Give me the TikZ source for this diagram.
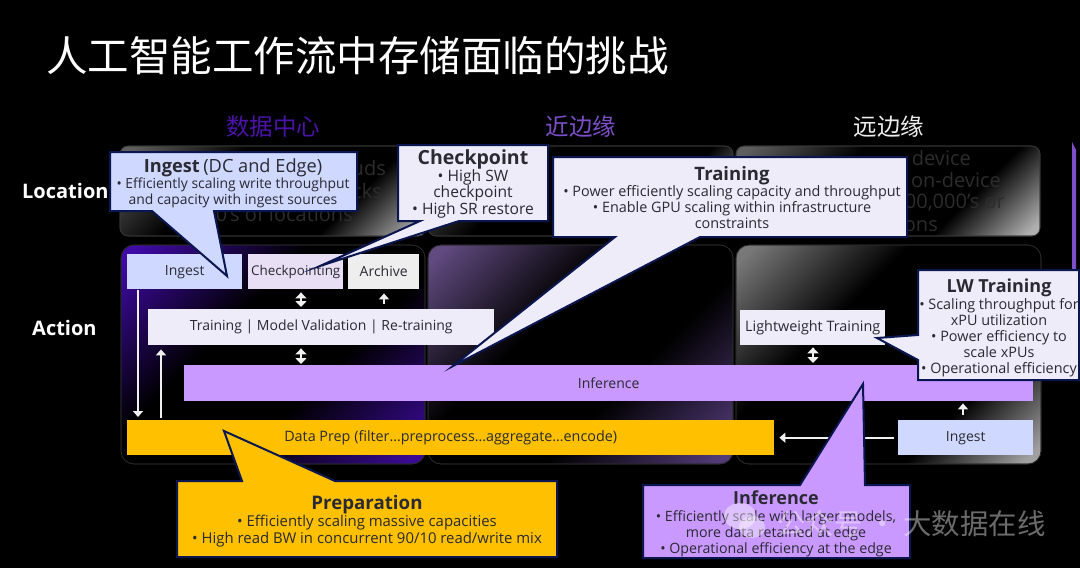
\documentclass[tikz,border=0pt]{standalone}
\usepackage{fontspec}
\setmainfont{Open Sans}
\newfontfamily\cjk{Noto Sans CJK SC}
\usetikzlibrary{arrows.meta}
\definecolor{navy}{HTML}{0A1650}
\definecolor{txt}{HTML}{2A2A33}
\definecolor{ingestc}{HTML}{CFD8FF}
\definecolor{ckptc}{HTML}{E8DFF5}
\definecolor{archc}{HTML}{EEEEEE}
\definecolor{trainc}{HTML}{EFECF9}
\definecolor{infc}{HTML}{C999FF}
\definecolor{prepc}{HTML}{FFC000}
\definecolor{ghost}{HTML}{2C2C2C}
\definecolor{headA}{HTML}{4B12A8}
\definecolor{headB}{HTML}{7D4FC8}
\definecolor{la}{HTML}{3F0AA6}
\definecolor{lb}{HTML}{3A0A96}
\definecolor{ma}{HTML}{614A80}
\definecolor{mb}{HTML}{523A78}
\definecolor{ra}{HTML}{787878}
\definecolor{rb}{HTML}{A0A0A0}
\definecolor{ta}{HTML}{5E5E5E}
\definecolor{tb}{HTML}{B0B0B0}
\pgfdeclarehorizontalshading{pLeft}{100bp}{color(0bp)=(la); color(17bp)=(la); color(40bp)=(black); color(60bp)=(black); color(83bp)=(lb); color(100bp)=(lb)}
\pgfdeclarehorizontalshading{pMid}{100bp}{color(0bp)=(ma); color(17bp)=(ma); color(40bp)=(black); color(60bp)=(black); color(83bp)=(mb); color(100bp)=(mb)}
\pgfdeclarehorizontalshading{pRight}{100bp}{color(0bp)=(ra); color(17bp)=(ra); color(38bp)=(black); color(67bp)=(black); color(83bp)=(rb); color(100bp)=(rb)}
\pgfdeclarehorizontalshading{pLoc}{100bp}{color(0bp)=(ta); color(17bp)=(ta); color(38bp)=(black); color(66bp)=(black); color(83bp)=(tb); color(100bp)=(tb)}
\tikzset{
  x=1pt,y=-1pt,
  panel/.style={draw=white!16!black,line width=.6pt,rounded corners=13pt},
  locpanel/.style={draw=white!22!black,line width=.6pt,rounded corners=8pt},
  box/.style={font=\fontsize{14}{16}\selectfont,text=txt,inner sep=0pt,anchor=north west,align=center},
  callout/.style={draw=navy,line width=2pt,miter limit=20,line join=miter},
  ctext/.style={text=txt,align=center,inner sep=0pt},
  arr/.style={draw=white!94!black,line width=1.8pt,-{Triangle[width=10pt,length=6pt]}},
  dblarr/.style={draw=white!94!black,line width=1.8pt,{Triangle[width=11pt,length=6pt]}-{Triangle[width=11pt,length=6pt]}},
  head/.style={font=\cjk\fontsize{23.5}{26}\selectfont,inner sep=0pt},
  side/.style={font=\bfseries\fontsize{20}{22}\selectfont,text=white,inner sep=0pt},
  gh/.style={font=\fontsize{20}{22}\selectfont,text=ghost,inner sep=0pt,anchor=east}
}
\newcommand{\hd}[2][18]{{\bfseries\fontsize{#1}{20}\selectfont #2}}
\newcommand{\bodysize}[1]{\fontsize{#1}{16}\selectfont}
\newcommand{\lw}[1]{\raisebox{-1pt}{#1}}
\begin{document}
\begin{tikzpicture}
\useasboundingbox[fill=black] (0,0) rectangle (1080,568);
\node[inner sep=0pt,text=white,font=\cjk\fontsize{41.5}{46}\selectfont,anchor=west] (title) at (46,56) {人工智能工作流中存储面临的挑战};
\node[head,text=headA] (h1) at (273,127) {数据中心};
\node[head,text=headB] (h2) at (581,127) {近边缘};
\node[head,text=white!93!black] (h3) at (889,127) {远边缘};
% purple edge line
\fill[headB] (1072,142) -- (1076,150) -- (1076,272) -- (1072,272) -- cycle;
% location panels
\path[locpanel,shading=pLoc,shading angle=-45] (120,146) rectangle (426,236);
\path[locpanel,shading=pLoc,shading angle=-45] (428,146) rectangle (733,236);
\path[locpanel,shading=pLoc,shading angle=-45] (736,146) rectangle (1040,236);
\draw[locpanel] (120,146) rectangle (426,236);
\draw[locpanel] (428,146) rectangle (733,236);
\draw[locpanel] (736,146) rectangle (1040,236);
\node[gh] (g1) at (386,168) {uds};
\node[gh] (g2) at (382,191) {cks};
\node[gh] (g3) at (353,214) {0's of locations};
\node[gh] (g4) at (971,158) {device};
\node[gh] (g5) at (1001,180) {on-device};
\node[gh] (g6) at (1005,203) {00,000's or};
\node[gh] (g7) at (938,226) {ons};
\node[side,anchor=west] (loc) at (22,191) {Location};
\node[side,anchor=west] (act) at (32,328) {Action};
% action panels
\path[panel,shading=pLeft,shading angle=-45] (121,245) rectangle (425,464);
\path[panel,shading=pMid,shading angle=-45] (428,245) rectangle (733,464);
\path[panel,shading=pRight,shading angle=-45] (736,245) rectangle (1041,464);
\draw[panel] (121,245) rectangle (425,464);
\draw[panel] (428,245) rectangle (733,464);
\draw[panel] (736,245) rectangle (1041,464);
% boxes
\node[box,fill=ingestc,minimum width=115pt,minimum height=35pt] (ing) at (127,254) {\lw{Ingest}};
\node[box,fill=ckptc,minimum width=95pt,minimum height=35pt,font=\fontsize{13.4}{16}\selectfont] (ckp) at (248,254) {\lw{Checkpointing}};
\node[box,fill=archc,minimum width=71pt,minimum height=35pt] (arc) at (348,254) {\lw{Archive}};
\node[box,fill=trainc,minimum width=346pt,minimum height=36pt] (trn) at (148,309) {\lw{Training | Model Validation | Re-training}};
\node[box,fill=infc,minimum width=849pt,minimum height=36pt] (inf) at (184,365) {Inference};
\node[box,fill=prepc,minimum width=647pt,minimum height=35pt,font=\fontsize{14.35}{16}\selectfont] (prp) at (127,420) {\lw{Data Prep (filter…preprocess…aggregate…encode)}};
\node[box,fill=ingestc,minimum width=135pt,minimum height=35pt] (ing2) at (898,420) {Ingest};
\node[box,fill=trainc,minimum width=145pt,minimum height=35pt,font=\fontsize{14.4}{16}\selectfont] (lwt) at (740,310) {Lightweight Training};
% connectors
\coordinate (xa) at (301,0);
\coordinate (xb) at (384,0);
\coordinate (xc) at (138,0);
\coordinate (xd) at (161,0);
\coordinate (xe) at (813,0);
\coordinate (xf) at (963,0);
\draw[dblarr,shorten <=3pt,shorten >=2pt] (ckp.south -| xa) -- (trn.north -| xa);
\draw[arr,shorten <=5pt,shorten >=4pt] (trn.north -| xb) -- (arc.south -| xb);
\draw[dblarr,shorten <=3pt,shorten >=1pt] (trn.south -| xa) -- (inf.north -| xa);
\draw[arr,shorten <=1pt,shorten >=3pt] (ing.south -| xc) -- (prp.north -| xc);
\draw[arr,shorten <=2pt,shorten >=4pt] (prp.north -| xd) -- (trn.south -| xd);
\draw[dblarr,shorten <=2pt,shorten >=2pt] (lwt.south -| xe) -- (inf.north -| xe);
\draw[arr,shorten <=5pt,shorten >=2pt] (ing2.north -| xf) -- (inf.south -| xf);
\draw[arr,shorten <=4pt,shorten >=5pt] (ing2.west) -- (prp.east);
% callouts
\draw[callout,fill=ingestc] (110,152) -- (357,152) -- (357,211) -- (214,211) -- (227,276) -- (152,211) -- (110,211) -- cycle;
\node[ctext,font=\bodysize{13.9}] (c1) at (233,183) {\hd[18.2]{Ingest} {\fontsize{18.2}{20}\selectfont (DC and Edge)}\\• Efficiently scaling write throughput\\and capacity with ingest sources};
\draw[callout,fill=trainc] (398,145) -- (548,145) -- (548,221) -- (459,221) -- (320,266) -- (420,221) -- (398,221) -- cycle;
\node[ctext,font=\fontsize{15.6}{16.6}\selectfont] (c2) at (473,184) {\hd[19.5]{Checkpoint}\\• High SW\\checkpoint\\• High SR restore};
\draw[callout,fill=trainc] (553,157) -- (907,157) -- (907,237) -- (700,237) -- (453,366) -- (615,237) -- (553,237) -- cycle;
\node[ctext,font=\bodysize{14.4}] (c3) at (732,198) {\hd[18.5]{Training}\\• Power efficiently scaling capacity and throughput\\• Enable GPU scaling within infrastructure\\constraints};
\draw[callout,fill=trainc] (918,270) -- (1079,270) -- (1079,380) -- (918,380) -- (918,360) -- (877,338) -- (918,335) -- cycle;
\node[ctext,font=\bodysize{14.4}] (c4) at (999,328) {\hd{LW Training}\\[.5pt]• Scaling throughput for\\xPU utilization\\• Power efficiency to\\scale xPUs\\• Operational efficiency};
\draw[callout,fill=infc] (643,485) -- (800,485) -- (863,384) -- (865,485) -- (910,485) -- (910,558) -- (643,558) -- cycle;
\node[ctext,font=\bodysize{14.2}] (c5) at (776,524) {\hd{Inference}\\[1.5pt]• Efficiently scale with larger models,\\more data retained at edge\\• Operational efficiency at the edge};
\draw[callout,fill=prepc] (177,481) -- (242,481) -- (224,431) -- (335,481) -- (557,481) -- (557,557) -- (177,557) -- cycle;
\node[ctext,font=\fontsize{14.9}{16.6}\selectfont] (c6) at (367,521) {\hd[18.7]{Preparation}\\[1pt]• Efficiently scaling massive capacities\\• High read BW in concurrent 90/10 read/write mix};
% watermark
\fill[white,opacity=.4] (740,516) ellipse (16pt and 13pt);
\fill[white,opacity=.4] (752,527) ellipse (13pt and 11pt);
\node[inner sep=0pt,text=white,opacity=.42,font=\cjk\fontsize{28.4}{30}\selectfont,anchor=west] (wm) at (777,524) {公众号 · 大数据在线};
\end{tikzpicture}
\end{document}
